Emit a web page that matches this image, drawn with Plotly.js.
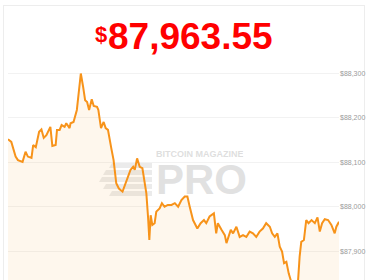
<!DOCTYPE html>
<html>
<head>
<meta charset="utf-8">
<script src="https://cdn.plot.ly/plotly-3.0.1.min.js"></script>
<style>
  html, body { margin: 0; padding: 0; background: #fff; width: 370px; height: 280px; overflow: hidden; }
  #card { position: absolute; left: 3px; top: 5px; width: 362px; height: 290px; border: 1px solid #ededed; box-sizing: border-box; }
  #chart { position: absolute; left: 0; top: 0; width: 370px; height: 280px; }
</style>
</head>
<body>
<div id="card"></div>
<div id="chart"></div>
<script>
// elapsed minutes
const minutes = [0,1.0,2.3,3.0,4.4,5.3,6.0,7.1,7.6,8.4,9.4,10.1,10.8,11.6,12.8,13.4,14.4,14.8,15.6,16.2,17.1,17.6,18.6,18.9,19.8,20.8,21.4,22.0,22.7,23.3,23.9,24.5,25.3,25.9,26.9,27.3,28.1,28.9,29.5,30.2,31.2,31.9,32.7,33.5,34.6,35.3,36.3,37.0,37.8,38.3,39.0,39.8,40.6,41.0,41.8,42.3,42.7,43.1,43.6,44.3,44.8,45.8,46.5,47.3,48.3,49.4,50.4,51.4,52.4,53.4,54.2,54.9,55.9,57.2,58.2,59.2,59.9,60.9,62.2,62.9,63.4,64.5,65.5,66.0,66.5,67.3,68.0,69.0,70.0,71.0,72.0,73.0,74.0,75.0,76.0,77.0,78.0,79.1,79.8,80.6,81.4,82.1,82.8,83.4,84.1,84.8,85.6,87.6,88.1,88.6,89.4,90.1,90.8,91.7,92.7,93.5,94.2,94.9,95.7,96.7,97.7,98.7,99.2,100];
// BTC price, USD
const price = [88152,88146,88113,88105,88101,88124,88113,88110,88139,88134,88169,88174,88155,88161,88180,88137,88139,88173,88173,88184,88180,88188,88177,88188,88191,88218,88259,88300,88270,88240,88236,88218,88242,88227,88225,88218,88177,88191,88177,88173,88132,88105,88053,88041,88034,88049,88068,88083,88090,88083,88109,88090,88087,88064,88030,87978,87925,87981,87959,87963,87989,87996,88008,88000,88004,88004,88008,88000,88015,88023,88023,88000,87970,87951,87963,87970,87963,87978,87985,87940,87963,87948,87936,87918,87932,87948,87940,87955,87932,87936,87932,87944,87940,87932,87944,87951,87963,87955,87940,87932,87940,87910,87899,87873,87876,87850,87830,87830,87887,87921,87925,87970,87963,87970,87963,87976,87944,87963,87972,87970,87959,87940,87955,87966];
const tickValues = [87900,88000,88100,88200,88300];
const tickLabels = ['$87,900','$88,000','$88,100','$88,200','$88,300'];
const lastPrice = '87,963.55';

const trace = {
  x: minutes, y: price, type: 'scatter', mode: 'lines',
  line: {color: '#f7931a', width: 2},
  fill: 'tozeroy', fillcolor: 'rgba(247,147,26,0.08)',
  hoverinfo: 'skip'
};

// helpers for pixel placement of decorations
const L = 8, R = 339, T = 62, B = 280;
const px = x => (x - L) / (R - L);
const py = y => (B - y) / (B - T);

const stripes = [];
const stripeRows = [[163,168,112],[170,175,106],[177,182,102],[184,189,106],[191,196,112]];
stripeRows.forEach(([y0,y1,x0]) => {
  stripes.push({type:'path', xref:'paper', yref:'paper', layer:'below', line:{width:0},
    fillcolor:'rgba(215,215,215,0.5)',
    path:`M ${px(x0)} ${py(y0)} L ${px(152)} ${py(y0)} L ${px(152)} ${py(y1)} L ${px(x0-3)} ${py(y1)} Z`});
});

const FONT = 'Liberation Sans, Arial, sans-serif';
const layout = {
  width: 370, height: 280,
  margin: {l: L, r: 370 - R, t: T, b: 0},
  paper_bgcolor: 'rgba(0,0,0,0)', plot_bgcolor: 'rgba(0,0,0,0)',
  showlegend: false,
  xaxis: {range: [0, 100], showgrid: false, zeroline: false, showticklabels: false, ticks: '', showline: false, fixedrange: true},
  yaxis: {range: [87835, 88326], side: 'right', tickvals: tickValues, ticktext: tickLabels,
    showgrid: true, gridcolor: '#f2f2f2', gridwidth: 1, zeroline: false, showline: false, ticks: '',
    tickfont: {family: FONT, size: 7, color: '#9a9a9a'}, fixedrange: true},
  shapes: stripes,
  annotations: [
    {xref:'paper', yref:'paper', x: px(101), y: py(35), xanchor:'center', yanchor:'middle', showarrow:false,
     text: '$', font:{family: FONT, size: 22, color:'#ff0000', weight: 700}},
    {xref:'paper', yref:'paper', x: px(190), y: py(36), xanchor:'center', yanchor:'middle', showarrow:false,
     text: lastPrice, font:{family: FONT, size: 37, color:'#ff0000', weight: 700}},
    {xref:'paper', yref:'paper', x: px(200), y: py(154), xanchor:'center', yanchor:'middle', showarrow:false,
     text: '<b>BITCOIN MAGAZINE</b>', height: 10,
     font:{family: FONT, size: 9, color:'rgba(200,200,200,0.6)'}},
    {xref:'paper', yref:'paper', x: px(201), y: py(179), xanchor:'center', yanchor:'middle', showarrow:false,
     text: '<b>PRO</b>', height: 32,
     font:{family: FONT, size: 42, color:'rgba(200,200,200,0.55)'}}
  ]
};

Plotly.newPlot('chart', [trace], layout, {staticPlot: true, displayModeBar: false});
</script>
</body>
</html>
